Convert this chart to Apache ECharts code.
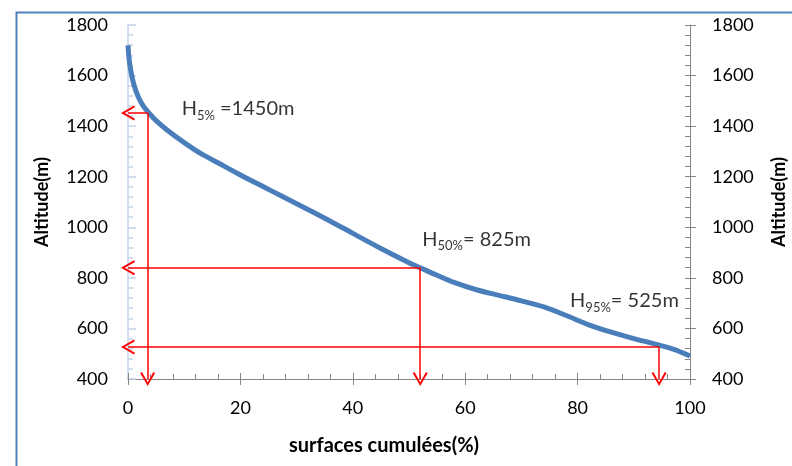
<!DOCTYPE html>
<html>
<head>
<meta charset="utf-8">
<script src="https://cdn.jsdelivr.net/npm/echarts@6/dist/echarts.min.js"></script>
<style>html,body{margin:0;padding:0;background:#fff;overflow:hidden;}#c{width:792px;height:466px;}</style>
</head>
<body>
<div id="c"></div>
<script>
// Hypsometric curve: cumulative surface (%) vs altitude (m)
const surfPct = [0, 0.15, 0.4, 1, 1.8, 2.7, 3.6, 5, 7, 10, 13, 16, 20, 25, 30, 35, 40, 45, 50, 52, 55, 58, 62, 66, 70, 74, 78, 82, 86, 90, 94, 97, 100];
const altitude = [1720, 1675, 1632, 1568, 1517, 1480, 1455, 1422, 1384, 1335, 1291, 1255, 1207, 1150, 1093, 1036, 976, 916, 860, 840, 810, 782, 753, 731, 709, 685, 651, 614, 585, 560, 537, 518, 491];

// Reference markers H5%, H50%, H95%
const markPct = [3.5, 52, 94.5];
const markAlt = [1452, 840, 527];
const markSub = ['5%', '50%', '95%'];
const markText = [' =1450m', '= 825m', '= 525m'];

const xTicks = [0, 20, 40, 60, 80, 100];
const yTicks = [400, 600, 800, 1000, 1200, 1400, 1600, 1800];

const xTitle = 'surfaces cumulées(%)';
const yTitle = 'Altitude(m)';

const labelOffsets = [[34, -4], [2, -28], [-89, -46]];

const FONT = 'Lato';
const gray = '#868686';
const lightBlue = '#c3d3ec';
const red = '#ff0000';
const arrowPath = 'path://M6,0 L12,11 L10.6,11.8 L6,3.2 L1.4,11.8 L0,11 Z';

const chart = echarts.init(document.getElementById('c'), null, {renderer: 'canvas'});

const curve = surfPct.map((p, i) => [p, altitude[i]]);

const mlData = [];
markPct.forEach((p, i) => {
  mlData.push([{coord: [p, markAlt[i]], symbol: 'none'}, {coord: [xTicks[0], markAlt[i]], symbol: arrowPath}]);
  mlData.push([{coord: [p, markAlt[i]], symbol: 'none'}, {coord: [p, yTicks[0]], symbol: arrowPath}]);
});

const annData = markPct.map((p, i) => ({
  value: [p, markAlt[i]],
  label: {
    show: true,
    position: labelOffsets[i],
    align: 'left',
    verticalAlign: 'middle',
    formatter: '{h|H}{s|' + markSub[i] + '}{h|' + markText[i] + '}'
  }
}));

const plain = v => String(v);
const tickLabel = {fontFamily: FONT, fontSize: 18, color: '#000', formatter: plain};
const nameStyle = {fontFamily: FONT, fontSize: 18, fontWeight: 'bold', color: '#000'};

chart.setOption({
  animation: false,
  backgroundColor: '#fff',
  grid: {left: 128, right: 102, top: 25, bottom: 87, containLabel: false, outerBoundsMode: 'none'},
  graphic: [{
    type: 'rect', left: 14, top: 10, z: 100,
    shape: {x: 0, y: 0, width: 900, height: 600},
    style: {fill: 'none', stroke: '#4f81bd', lineWidth: 2}
  }],
  xAxis: [{
    type: 'value', position: 'bottom', min: xTicks[0], max: xTicks[xTicks.length - 1], interval: 20,
    axisLine: {show: true, onZero: false, lineStyle: {color: gray, width: 1}},
    axisTick: {show: true, inside: true, length: 6, lineStyle: {color: gray}},
    minorTick: {show: true, splitNumber: 5, length: 5, lineStyle: {color: gray}},
    splitLine: {show: false},
    axisLabel: Object.assign({margin: 20}, tickLabel),
    name: xTitle, nameLocation: 'middle', nameGap: 57,
    nameTextStyle: Object.assign({padding: [0, 50, 0, 0]}, nameStyle, {fontSize: 20})
  }, {
    type: 'value', position: 'bottom', min: xTicks[0], max: xTicks[xTicks.length - 1], interval: 20,
    axisLine: {show: false, onZero: false},
    axisTick: {show: true, inside: false, length: 6, lineStyle: {color: gray}},
    splitLine: {show: false}, axisLabel: {show: false}
  }],
  yAxis: [{
    type: 'value', position: 'left', min: yTicks[0], max: yTicks[yTicks.length - 1], interval: 200,
    axisLine: {show: true, onZero: false, lineStyle: {color: lightBlue, width: 1.5}},
    axisTick: {show: true, inside: true, length: 8, lineStyle: {color: lightBlue, width: 1.5}},
    minorTick: {show: true, splitNumber: 5, length: 5, lineStyle: {color: lightBlue, width: 1.5}},
    splitLine: {show: false},
    axisLabel: Object.assign({margin: 20}, tickLabel),
    name: yTitle, nameLocation: 'middle', nameRotate: 90, nameGap: 77,
    nameTextStyle: nameStyle
  }, {
    type: 'value', position: 'right', min: yTicks[0], max: yTicks[yTicks.length - 1], interval: 200,
    axisLine: {show: true, onZero: false, lineStyle: {color: gray, width: 1}},
    axisTick: {show: true, inside: true, length: 5, lineStyle: {color: gray}},
    minorTick: {show: true, splitNumber: 5, length: 5, lineStyle: {color: gray}},
    splitLine: {show: false},
    axisLabel: Object.assign({margin: 22}, tickLabel),
    name: yTitle, nameLocation: 'middle', nameRotate: 90, nameGap: 80,
    nameTextStyle: nameStyle
  }, {
    type: 'value', position: 'right', min: yTicks[0], max: yTicks[yTicks.length - 1], interval: 200,
    axisLine: {show: false, onZero: false},
    axisTick: {show: true, inside: false, length: 6, lineStyle: {color: gray}},
    splitLine: {show: false}, axisLabel: {show: false}
  }],
  series: [{
    type: 'line', data: curve, xAxisIndex: 0, yAxisIndex: 0,
    showSymbol: false, smooth: 0.3,
    lineStyle: {color: '#4a7ebb', width: 5},
    z: 3,
    markLine: {
      silent: true, animation: false,
      symbolSize: [15, 14],
      label: {show: false},
      lineStyle: {color: red, width: 1.5, type: 'solid'},
      emphasis: {disabled: true},
      data: mlData
    }
  }, {
    type: 'scatter', data: annData, symbolSize: 0, silent: true, z: 5,
    label: {
      rich: {
        h: {fontFamily: FONT, fontSize: 20, lineHeight: 22, color: '#000', verticalAlign: 'middle'},
        s: {fontFamily: FONT, fontSize: 13, lineHeight: 13, color: '#000', verticalAlign: 'top', padding: [11, 0, 0, 0]}
      }
    }
  }]
});
</script>
</body>
</html>
